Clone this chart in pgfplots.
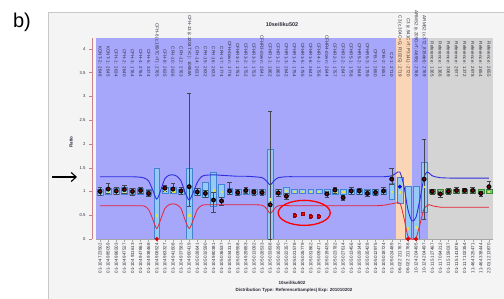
\documentclass[border=0pt]{standalone}
\usepackage{pgfplots}
\pgfplotsset{compat=1.18}
\usepackage{pgfplotstable}
\usetikzlibrary{arrows.meta}
\usepackage{fontspec}
\setmainfont{Liberation Sans}
\definecolor{bgblue}{RGB}{166,166,250}
\definecolor{bgorange}{RGB}{250,214,182}
\definecolor{bggray}{RGB}{212,212,212}
\definecolor{framebg}{RGB}{244,244,244}
\definecolor{framebd}{RGB}{200,200,200}
\definecolor{boxfill}{RGB}{148,202,245}
\definecolor{boxdraw}{RGB}{70,130,210}
\definecolor{gboxfill}{RGB}{120,200,110}
\definecolor{gboxdraw}{RGB}{60,140,60}
\definecolor{upline}{RGB}{45,45,225}
\definecolor{loline}{RGB}{230,35,55}
\definecolor{errgray}{RGB}{70,70,80}
\definecolor{darkred}{RGB}{150,0,0}
\definecolor{medyel}{RGB}{225,225,80}
\definecolor{pinkax}{RGB}{205,130,130}
\definecolor{labtext}{RGB}{45,45,60}
\newcommand\lab{\fontsize{4.5}{5}\selectfont}

\pgfplotstableread{
x lo h
0 0.93 0.12
1 0.95 0.12
2 0.95 0.11
3 0.95 0.13
4 0.94 0.12
5 0.95 0.11
6 0.93 0.11
7 0.00 1.50
8 0.97 0.12
9 0.96 0.12
10 0.95 0.10
11 0.00 1.50
12 0.93 0.13
13 0.88 0.32
14 0.68 0.72
15 0.87 0.28
16 0.95 0.11
17 0.94 0.11
18 0.95 0.10
19 0.94 0.11
20 0.94 0.11
21 0.00 1.90
22 0.94 0.11
23 0.93 0.17
24 0.96 0.08
25 0.96 0.08
26 0.96 0.08
27 0.96 0.08
28 0.94 0.10
29 0.95 0.10
30 0.95 0.10
31 0.95 0.10
32 0.95 0.10
33 0.94 0.11
34 0.95 0.10
35 0.95 0.10
36 0.84 0.34
37 0.76 0.54
38 0.00 1.12
39 0.00 1.12
40 0.57 1.05
}\boxblue

\pgfplotstableread{
x lo h
41 0.96 0.08
42 0.95 0.09
43 0.96 0.08
44 0.96 0.08
45 0.96 0.08
46 0.96 0.08
47 0.96 0.08
48 0.96 0.08
}\boxgreen

\pgfplotstableread{
x r em ep
0 1.00 0.08 0.08
1 1.05 0.08 0.13
2 1.01 0.07 0.07
3 1.04 0.07 0.09
4 1.00 0.07 0.07
5 1.02 0.06 0.06
6 0.96 0.06 0.07
8 1.07 0.06 0.07
9 1.05 0.07 0.12
10 1.01 0.07 0.07
11 1.10 0.40 1.97
12 0.99 0.07 0.07
13 0.96 0.07 0.07
14 0.82 0.25 0.17
15 0.80 0.08 0.08
16 1.01 0.07 0.19
17 0.98 0.06 0.07
18 1.02 0.06 0.06
19 0.99 0.06 0.06
20 0.98 0.06 0.06
21 0.72 0.72 1.96
22 0.97 0.06 0.07
23 0.90 0.06 0.07
28 0.95 0.06 0.06
29 1.03 0.06 0.07
30 0.87 0.05 0.06
31 1.01 0.06 0.07
32 1.01 0.06 0.06
33 0.96 0.06 0.06
34 0.98 0.06 0.06
35 1.01 0.06 0.07
36 1.26 0.10 0.24
40 1.26 0.84 0.84
41 1.00 0.05 0.05
42 0.95 0.06 0.06
43 1.00 0.05 0.06
44 1.02 0.05 0.06
45 1.02 0.05 0.05
46 1.02 0.06 0.06
47 0.96 0.05 0.05
48 1.10 0.06 0.12
}\ratios

\pgfplotstableread{
x med
0 1.00
1 1.00
2 1.00
3 1.00
4 1.00
5 1.00
6 1.00
7 0.50
8 1.02
9 1.00
10 1.00
11 0.50
12 1.00
13 1.00
14 1.03
15 1.00
16 1.00
17 1.00
18 1.00
19 1.00
20 1.00
21 0.84
22 1.00
23 1.02
24 1.00
25 1.00
26 1.00
27 1.00
28 1.00
29 1.00
30 1.00
31 1.00
32 1.00
33 1.00
34 1.00
35 1.00
36 1.00
37 0.98
38 0.23
39 0.25
40 1.10
41 1.00
42 1.00
43 1.00
44 1.00
45 1.00
46 1.00
47 1.00
48 1.00
}\meds

\pgfplotsset{base/.style={width=397pt, height=201pt, scale only axis,
  at={(96pt,60pt)}, anchor=south west, xmin=-0.5, xmax=48.5, ymin=0, ymax=4.23}}

\begin{document}
\begin{tikzpicture}[x=1pt,y=1pt]
\useasboundingbox (0,0) rectangle (504,299);
\fill[framebg] (48,-5) rectangle (520,287);
\draw[framebd, line width=0.6pt] (48,-5) -- (48,287) -- (520,287);
\node[font=\fontsize{20}{24}\selectfont] at (22,277) {b)};
% background bands
\fill[bgblue] (96,60) rectangle (395.7,261);
\fill[bgorange] (395.7,60) rectangle (411.9,261);
\fill[bgblue] (411.9,60) rectangle (428.1,261);
\fill[bggray] (428.1,60) rectangle (493,261);

% boxes (blue) and probe names
\begin{axis}[base, ybar stacked, bar width=0.72, axis line style={draw=none},
  ytick=\empty, xtick={0,...,48}, major tick length=0pt, xticklabel pos=right,
  xticklabel style={yshift=-39pt, rotate=-90, anchor=east, font=\lab, text=labtext, inner sep=0pt},
  xticklabels={KONT-2 : 2646, KONT-1 : 2645, CFH-1 : 2634, CFH-2 : 2640, CFH-3 : 1764, CFH-4 : 2764, CFH-5 : 3374,
  CFH-6 (c.1697C>T) : 2765, CFH-8 : 2635, CFH-10 : 2636, CFH-12 : 2763, CFH-13 (c.1204T>C) : 10958A,
  CFH-14 : 2631, CFH-15 : 2632, CFH-16 : 2633, CFH-17 : 1774, CFH-down : 1776, CFHR3-1 : 1751, CFHR3-2 : 1752,
  CFHR3-3 : 1753, CFHR3-down : 2641, CFHR1-1 : 1862, CFHR1-2 : 1863, CFHR1-3 : 2642, CFHR1-4 : 1754,
  CFHR1-5 : 1755, CFHR1-6 : 2643, CFHR4-1 : 1756, CFHR4-down : 2644, CFHR2-1 : 1757, CFHR2-2 : 2647,
  CFHR5-1 : 1758, CFHR5-2 : 2648, CFHR5-3 : 1759, CFB-1 : 2650, CFB-2 : 2651, C2-1 : 2710,
  C3 (c.304C>G; R102G) : 2719, C3 (c.941C>T; P314L) : 2720, ARMS2 (c.205G>T; A69S) : 2768,
  ARMS2 (c.372\_815del) : 2769, Reference : 1365, Reference : 1366, Reference : 3069, Reference : 2977,
  Reference : 1372, Reference : 2978, Reference : 2654, Reference : 2655}]
\addplot[draw=none, fill=none] table[x=x, y=lo]{\boxblue};
\addplot[fill=boxfill, draw=boxdraw, line width=0.4pt] table[x=x, y=h]{\boxblue};
\end{axis}

% boxes (green, reference probes)
\begin{axis}[base, ybar stacked, bar width=0.72, hide axis]
\addplot[draw=none, fill=none] table[x=x, y=lo]{\boxgreen};
\addplot[fill=gboxfill, draw=gboxdraw, line width=0.4pt] table[x=x, y=h]{\boxgreen};
\end{axis}

% main layer
\begin{axis}[base, clip=false, axis x line*=bottom, axis y line*=left,
  x axis line style={draw=gray!70, -}, y axis line style={draw=pinkax, xshift=-4pt, -},
  xtick={0,...,48}, x tick style={draw=gray!70, line width=0.4pt},
  ytick={0,0.5,1,1.5,2,2.5,3,3.5,4}, y tick style={draw=pinkax, xshift=-4pt, line width=0.4pt},
  tick align=outside, major tick length=3pt,
  /pgf/number format/assume math mode=true,
  yticklabel style={xshift=-4pt, font=\fontsize{4.2}{5}\selectfont, text=labtext},
  xticklabel style={rotate=90, anchor=east, font=\lab, text=labtext, inner sep=1pt},
  xticklabels={01-104 723502, 01-104 985059, 01-104 986503, 01-104 947527, 01-104 911613, 01-104 947861,
  01-104 938468, 01-104 906524, 01-104 963327, 01-104 941608, 01-104 937583, 01-104 960419, 01-105 028641,
  01-105 032590, 01-104 980381, 01-105 036537, 01-105 034317, 01-105 009558, 01-104 929853, 01-105 013092,
  01-105 028533, 01-105 033838, 01-105 016290, 01-105 022357, 01-105 021578, 01-105 026779, 01-105 031862,
  01-105 009471, 01-105 019435, 01-105 023782, 01-105 027614, 01-105 013456, 01-105 029146, 01-105 035428,
  01-105 012975, 01-105 018724, 01-105 024489, 06-022 211767, 06-022 211766, 10-124 204495, 10-124 204497,
  01-115 127467, 01-117 094212, 01-115 159037, 01-115 141876, 01-117 102354, 11-464 325471, 11-464 338444,
  22-011 213870}]
\addplot[upline, line width=0.9pt, smooth, tension=0.45] coordinates {
(0,1.31)(1,1.31)(2,1.31)(3,1.31)(4,1.31)(5,1.30)(5.5,1.28)(6,1.22)(6.5,1.03)(7,0.84)(7.5,1.03)(8,1.27)
(8.5,1.34)(9,1.35)(9.5,1.32)(10,1.22)(10.5,0.98)(11,0.82)(11.5,0.98)(12,1.19)(12.5,1.31)(13,1.34)
(14,1.35)(15,1.34)(16,1.33)(17,1.32)(18,1.32)(19,1.31)(20,1.29)(20.5,1.23)(21,1.14)(21.5,1.23)(22,1.29)
(23,1.31)(25,1.31)(27,1.31)(29,1.31)(31,1.31)(33,1.31)(35,1.31)(36,1.33)(36.5,1.38)(37,1.41)(37.5,1.12)
(38,0.62)(38.5,0.38)(39,0.46)(39.5,0.85)(40,1.30)(40.4,1.41)(41,1.33)(42,1.29)(44,1.28)(46,1.28)(48,1.28)};
\addplot[loline, line width=0.8pt, smooth, tension=0.45] coordinates {
(0,0.70)(1,0.70)(2,0.70)(3,0.70)(4,0.70)(5,0.70)(5.5,0.69)(6,0.62)(6.5,0.42)(7,0.22)(7.5,0.42)(8,0.64)
(8.5,0.72)(9,0.74)(9.5,0.72)(10,0.64)(10.5,0.40)(11,0.22)(11.5,0.40)(12,0.62)(12.5,0.70)(13,0.72)
(15,0.72)(17,0.72)(19,0.72)(20,0.71)(20.5,0.65)(21,0.54)(21.5,0.63)(22,0.70)(24,0.70)(26,0.70)(28,0.70)
(30,0.70)(32,0.70)(34,0.70)(35,0.71)(36,0.74)(37,0.75)(37.5,0.45)(38,0.06)(38.5,0.0)(39,0.02)(39.5,0.32)
(40,0.64)(40.6,0.72)(41,0.70)(42,0.67)(44,0.67)(46,0.67)(48,0.67)};
\addplot[only marks, mark=square*, mark size=0.75pt, color=medyel] table[x=x, y=med]{\meds};
\addplot[only marks, mark=*, mark size=2.2pt, mark options={fill=black, draw=black},
  error bars/.cd, y dir=both, y explicit,
  error bar style={draw=errgray, line width=0.4pt},
  error mark options={rotate=90, mark size=2.3pt, draw=errgray, line width=0.4pt}]
  table[x=x, y=r, y error plus=ep, y error minus=em]{\ratios};
\addplot[only marks, mark=*, mark size=0.8pt, color=darkred] table[x=x, y=r]{\ratios};
\addplot[only marks, mark=*, mark size=1.9pt, color=red!90!black] coordinates {(7,0)(38,0)(39,0)};
\addplot[only marks, mark=*, mark size=1.8pt, color=blue!85!black] coordinates {(37,1.10)};
\addplot[only marks, mark=square*, mark size=1.4pt, mark options={fill=red, draw=red!60!black},
  error bars/.cd, y dir=both, y fixed=0.04,
  error bar style={draw=red!70!black, line width=0.5pt},
  error mark options={rotate=90, mark size=1.4pt, draw=red!70!black, line width=0.5pt}]
  coordinates {(24,0.50)(25,0.53)(26,0.48)(27,0.48)};
\draw[red, line width=1.3pt] (axis cs:25.2,0.55) ellipse [x radius=26pt, y radius=12.5pt];
\end{axis}

\node[font=\fontsize{5.5}{6}\selectfont\bfseries, text=labtext] at (282,274) {10seiliku502};
\node[font=\fontsize{4.5}{5}\selectfont\bfseries, text=labtext, rotate=90] at (71,157) {Ratio};
\draw[-{Straight Barb[length=5pt,width=9pt]}, line width=1.1pt] (52,122) -- (77,122);
\node[font=\fontsize{4.5}{5}\selectfont\bfseries, text=labtext] at (292,16) {10seiliku502};
\node[font=\fontsize{4.5}{5}\selectfont\bfseries, text=labtext] at (294,8.5) {Distribution Type: ReferenceSamples| Exp: 201010202};
\end{tikzpicture}
\end{document}
